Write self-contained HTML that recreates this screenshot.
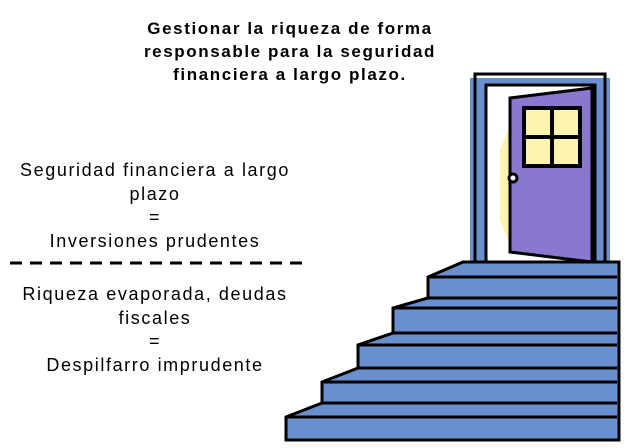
<!DOCTYPE html>
<html><head><meta charset="utf-8"><style>
body{margin:0;background:#fff;width:634px;height:448px;overflow:hidden;position:relative;font-family:"Liberation Sans",sans-serif}
.t{position:absolute;text-align:center;white-space:nowrap}
</style></head><body>
<div class="t" style="left:90px;top:17px;width:400px;font-weight:bold;font-size:17px;letter-spacing:1.6px;line-height:23px">Gestionar la riqueza de forma<br>responsable para la seguridad<br>financiera a largo plazo.</div>
<div class="t" style="left:0;top:159px;width:310px;font-size:18px;letter-spacing:1.6px;line-height:23.5px">Seguridad financiera a largo<br>plazo<br>=<br>Inversiones prudentes</div>
<div class="t" style="left:0;top:283px;width:310px;font-size:18px;letter-spacing:1.6px;line-height:23.5px">Riqueza evaporada, deudas<br>fiscales<br>=<br>Despilfarro imprudente</div>
<svg width="634" height="448" style="position:absolute;left:0;top:0">
<line x1="10" y1="263" x2="310" y2="263" stroke="#000" stroke-width="3" stroke-dasharray="12,8"/>
<rect x="470" y="78" width="140" height="184" fill="#6a8fcf"/>
<rect x="486" y="85" width="109" height="177" fill="#fff"/>
<rect x="475" y="74" width="130" height="188" fill="none" stroke="#000" stroke-width="3"/>
<rect x="486" y="85" width="109" height="177" fill="none" stroke="#000" stroke-width="3"/>
<polygon points="500,150 512,120 512,250 500,220" fill="#fff3b0"/>
<polygon points="510,98 592,88 592,262 510,252" fill="#8a78cf" stroke="#000" stroke-width="3"/>
<rect x="524" y="108" width="56" height="58" fill="#fff3b0" stroke="#000" stroke-width="4"/>
<line x1="552" y1="108" x2="552" y2="166" stroke="#000" stroke-width="4"/>
<line x1="524" y1="137" x2="580" y2="137" stroke="#000" stroke-width="4"/>
<circle cx="513" cy="178" r="4" fill="#fff" stroke="#000" stroke-width="3"/>
<polygon points="463,262 619,262 619,440 286,440 286,417 322,403 322,382 358,368 358,345 393,333 393,308 428,298 428,277" fill="#6a8fcf" stroke="#000" stroke-width="3"/>
<g stroke="#000" stroke-width="3" fill="none">
<line x1="428" y1="277" x2="617" y2="277"/>
<line x1="428" y1="298" x2="617" y2="298"/>
<line x1="393" y1="308" x2="617" y2="308"/>
<line x1="393" y1="333" x2="617" y2="333"/>
<line x1="358" y1="345" x2="617" y2="345"/>
<line x1="358" y1="368" x2="617" y2="368"/>
<line x1="322" y1="382" x2="617" y2="382"/>
<line x1="322" y1="403" x2="617" y2="403"/>
<line x1="286" y1="417" x2="617" y2="417"/>
</g>
</svg>
</body></html>
